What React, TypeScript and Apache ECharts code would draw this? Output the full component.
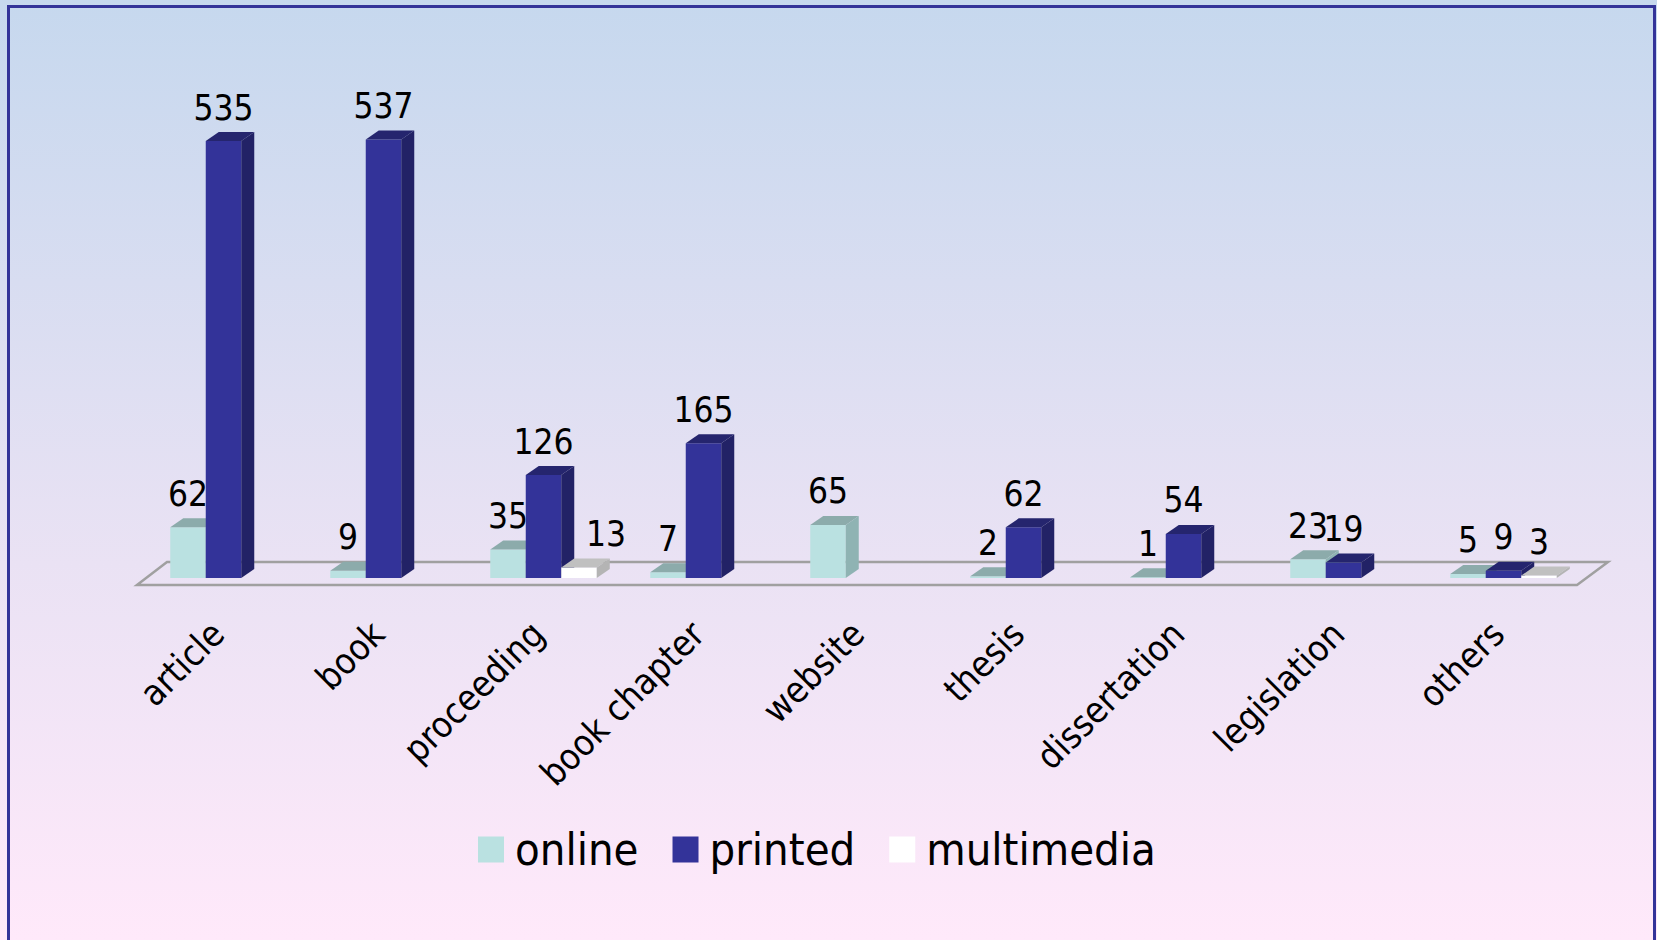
import React, { useEffect, useRef } from "react";
import * as echarts from "echarts";

const categories = ["article", "book", "proceeding", "book chapter", "website", "thesis", "dissertation", "legislation", "others"];
const seriesNames = ["online", "printed", "multimedia"];
const online = [62, 9, 35, 7, 65, 2, 1, 23, 5];
const printed = [535, 537, 126, 165, 0, 62, 54, 19, 9];
const multimedia = [0, 0, 13, 0, 0, 0, 0, 0, 3];

const FONT = "'DejaVu Sans Condensed', 'DejaVu Sans', sans-serif";

const palettes = [
  { front: "#BAE1E1", top: "#8CABAB", side: "#8FB3B3" },
  { front: "#333399", top: "#25256E", side: "#222266" },
  { front: "#FFFFFF", top: "#C0C0C0", side: "#B4B4B4" },
];

const allSeries = [online, printed, multimedia];

function makeRender(sIdx: number) {
  return (params: any, api: any) => {
    const cat = api.value(0);
    const val = api.value(1);
    if (!val) return { type: "group", children: [] };
    const base = api.coord([cat, 0]);
    const top = api.coord([cat, val]);
    const band = api.size([1, 0])[0];
    const barW = band * (35.5 / 160);
    const x0 = base[0] - (barW * 3) / 2 + sIdx * barW;
    const x1 = x0 + barW;
    const yb = base[1];
    const yt = top[1];
    const dx = 13;
    const dy = 9;
    const p = palettes[sIdx];
    let lx = (x0 + x1) / 2;
    if (sIdx === 2) {
      const pv = printed[cat];
      const pTop = api.coord([cat, pv])[1];
      if (pTop < yt - 18) lx += 27;
    }
    return {
      type: "group",
      children: [
        { type: "rect", shape: { x: x0, y: yt, width: barW, height: yb - yt }, style: { fill: p.front } },
        { type: "polygon", shape: { points: [[x0, yt], [x0 + dx, yt - dy], [x1 + dx, yt - dy], [x1, yt]] }, style: { fill: p.top } },
        { type: "polygon", shape: { points: [[x1, yt], [x1 + dx, yt - dy], [x1 + dx, yb - dy], [x1, yb]] }, style: { fill: p.side } },
        {
          type: "text",
          z2: 100,
          style: {
            x: lx,
            y: yt - 16,
            text: String(val),
            fill: "#000",
            font: `35px ${FONT}`,
            align: "center",
            verticalAlign: "bottom",
          },
        },
      ],
    };
  };
}

export default function App() {
  const ref = useRef<HTMLDivElement>(null);
  useEffect(() => {
    document.body.style.margin = "0";
    const chart = echarts.init(ref.current!, null, { renderer: "svg" });
    chart.setOption({
      animation: false,
      backgroundColor: {
        type: "linear",
        x: 0, y: 0, x2: 0, y2: 1,
        colorStops: [
          { offset: 0, color: "#C6D8EE" },
          { offset: 0.6, color: "#EAE2F4" },
          { offset: 1, color: "#FFE9FA" },
        ],
      },
      grid: { left: 143.5, right: 73.5, top: 88, bottom: 362 },
      xAxis: {
        type: "category",
        data: categories,
        axisLine: { show: false },
        axisTick: { show: false },
        axisLabel: { rotate: 45, fontSize: 36, color: "#000", fontFamily: FONT, margin: 44, interval: 0, padding: [0, 8, 0, 0] },
      },
      yAxis: { type: "value", min: 0, max: 600, show: false, splitLine: { show: false } },
      legend: {
        data: seriesNames,
        left: 473,
        top: 822,
        icon: "rect",
        itemWidth: 26,
        itemHeight: 26,
        itemGap: 34,
        textStyle: { fontSize: 45, color: "#000", fontFamily: FONT, padding: [0, 0, 0, 6] },
      },
      graphic: [
        {
          type: "polygon",
          z: 0,
          shape: { points: [[137, 585], [167, 562], [1608, 562], [1577, 585]] },
          style: { fill: "rgba(0,0,0,0)", stroke: "#A0A0A0", lineWidth: 2.5 },
        },
        {
          type: "rect",
          z: 100,
          shape: { x: 8.5, y: 6.5, width: 1646, height: 1000 },
          style: { fill: "none", stroke: "#333399", lineWidth: 3 },
        },
      ],
      series: allSeries.map((arr, i) => ({
        type: "custom",
        name: seriesNames[i],
        itemStyle: { color: palettes[i].front },
        renderItem: makeRender(i),
        data: arr.map((v, j) => [j, v]),
      })),
    });
    return () => chart.dispose();
  }, []);
  return <div ref={ref} style={{ width: 1657, height: 940 }} />;
}
